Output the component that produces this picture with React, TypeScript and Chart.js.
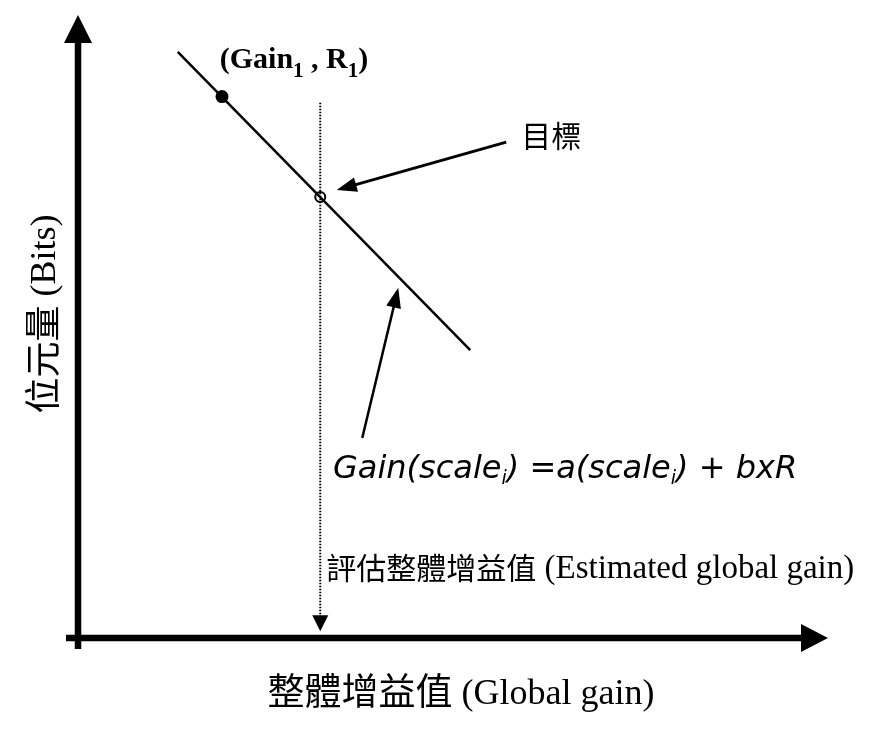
import React, { useEffect, useRef } from "react";
import { Chart, registerables } from "chart.js";

Chart.register(...registerables);

// ---- data (abstract units, 0..100 on both axes) ----
const lineX = [13.3, 52.3];
const lineY = [94.1, 46.2];
const startPointX = [19.2];
const startPointY = [86.9];
const targetPointX = [32.3];
const targetPointY = [70.8];
const estimateLineX = [32.3, 32.3];
const estimateLineY = [85.9, 3.5];
const estimateArrowTip = [32.3, 1.1];

// annotation anchors (data units)
const targetArrowTail = [57.1, 79.6];
const targetArrowTip = [34.5, 71.9];
const formulaArrowTail = [37.9, 32.1];
const formulaArrowTip = [42.7, 56.2];
const targetLabelAt = [59.1, 80.6];
const startLabelAt = [18.9, 91.5];
const formulaLabelAt = [34.0, 25.7];
const estimateLabelAt = [33.1, 9.6];

const xTitleCJK = "整體增益值";
const xTitleLatin = " (Global gain)";
const yTitleCJK = "位元量";
const yTitleLatin = " (Bits)";
const targetLabel = "目標";
const estimateCJK = "評估整體增益值";
const estimateLatin = " (Estimated global gain)";

const SERIF = "'Liberation Serif', 'Times New Roman', serif";
const CJK = "'Noto Sans CJK TC', 'Noto Sans CJK SC', sans-serif";

function arrow(ctx: CanvasRenderingContext2D, x1: number, y1: number, x2: number, y2: number, headLen: number, headW: number, lw: number) {
  const ang = Math.atan2(y2 - y1, x2 - x1);
  const bx = x2 - Math.cos(ang) * headLen;
  const by = y2 - Math.sin(ang) * headLen;
  ctx.save();
  ctx.strokeStyle = "#000";
  ctx.fillStyle = "#000";
  ctx.lineWidth = lw;
  ctx.setLineDash([]);
  ctx.beginPath();
  ctx.moveTo(x1, y1);
  ctx.lineTo(bx + Math.cos(ang) * 2, by + Math.sin(ang) * 2);
  ctx.stroke();
  const px = -Math.sin(ang) * headW;
  const py = Math.cos(ang) * headW;
  ctx.beginPath();
  ctx.moveTo(x2, y2);
  ctx.lineTo(bx + px, by + py);
  ctx.lineTo(bx - px, by - py);
  ctx.closePath();
  ctx.fill();
  ctx.restore();
}

type Piece = { t: string; font: string; dy?: number };
function drawPieces(ctx: CanvasRenderingContext2D, pieces: Piece[], x: number, y: number) {
  let cx = x;
  for (const p of pieces) {
    ctx.font = p.font;
    ctx.fillText(p.t, cx, y + (p.dy || 0));
    cx += ctx.measureText(p.t).width;
  }
  return cx - x;
}
function piecesWidth(ctx: CanvasRenderingContext2D, pieces: Piece[]) {
  let w = 0;
  for (const p of pieces) {
    ctx.font = p.font;
    w += ctx.measureText(p.t).width;
  }
  return w;
}

const decorPlugin = {
  id: "decor",
  afterDatasetsDraw(chart: any) {
    const ctx: CanvasRenderingContext2D = chart.ctx;
    const xs = chart.scales.x;
    const ys = chart.scales.y;
    const area = chart.chartArea;
    const X = (v: number) => xs.getPixelForValue(v);
    const Y = (v: number) => ys.getPixelForValue(v);

    ctx.save();
    ctx.fillStyle = "#000";
    ctx.strokeStyle = "#000";

    // axes
    ctx.lineWidth = 6.5;
    ctx.beginPath();
    ctx.moveTo(area.left, area.bottom + 11);
    ctx.lineTo(area.left, area.top + 25);
    ctx.stroke();
    ctx.beginPath();
    ctx.moveTo(area.left - 12, area.bottom);
    ctx.lineTo(area.right - 24, area.bottom);
    ctx.stroke();
    // y arrow head
    ctx.beginPath();
    ctx.moveTo(area.left, area.top);
    ctx.lineTo(area.left - 14, area.top + 28);
    ctx.lineTo(area.left + 14, area.top + 28);
    ctx.closePath();
    ctx.fill();
    // x arrow head
    ctx.beginPath();
    ctx.moveTo(area.right, area.bottom);
    ctx.lineTo(area.right - 27, area.bottom - 14);
    ctx.lineTo(area.right - 27, area.bottom + 14);
    ctx.closePath();
    ctx.fill();

    // estimate arrow head (down)
    const tipX = X(estimateArrowTip[0]);
    const tipY = Y(estimateArrowTip[1]);
    ctx.beginPath();
    ctx.moveTo(tipX, tipY);
    ctx.lineTo(tipX - 8, tipY - 16);
    ctx.lineTo(tipX + 8, tipY - 16);
    ctx.closePath();
    ctx.fill();

    // annotation arrows
    arrow(ctx, X(targetArrowTail[0]), Y(targetArrowTail[1]), X(targetArrowTip[0]), Y(targetArrowTip[1]), 20, 7.5, 3);
    arrow(ctx, X(formulaArrowTail[0]), Y(formulaArrowTail[1]), X(formulaArrowTip[0]), Y(formulaArrowTip[1]), 20, 7.5, 2.5);

    // texts
    ctx.textAlign = "left";
    ctx.textBaseline = "alphabetic";
    // (Gain1 , R1)
    const bold = `bold 30px ${SERIF}`;
    const boldSub = `bold 21px ${SERIF}`;
    drawPieces(ctx, [
      { t: "(Gain", font: bold },
      { t: "1", font: boldSub, dy: 9 },
      { t: " , ", font: bold },
      { t: "R", font: bold },
      { t: "1", font: boldSub, dy: 9 },
      { t: ")", font: bold },
    ], X(startLabelAt[0]), Y(startLabelAt[1]));

    // 目標
    ctx.textBaseline = "middle";
    ctx.font = `30px ${CJK}`;
    ctx.fillText(targetLabel, X(targetLabelAt[0]), Y(targetLabelAt[1]));

    // formula
    ctx.textBaseline = "alphabetic";
    const it = `italic 32px 'DejaVu Sans', sans-serif`;
    const itSub = `italic 19px 'DejaVu Sans', sans-serif`;
    drawPieces(ctx, [
      { t: "Gain(scale", font: it },
      { t: "i", font: itSub, dy: 6 },
      { t: ") =a(scale", font: it },
      { t: "i", font: itSub, dy: 6 },
      { t: ") + bxR", font: it },
    ], X(formulaLabelAt[0]), Y(formulaLabelAt[1]));

    // estimate label
    drawPieces(ctx, [
      { t: estimateCJK, font: `30px ${CJK}`, dy: 1 },
      { t: estimateLatin, font: `33px ${SERIF}` },
    ], X(estimateLabelAt[0]), Y(estimateLabelAt[1]));

    // x title
    const xPieces: Piece[] = [
      { t: xTitleCJK, font: `37px ${CJK}`, dy: 1 },
      { t: xTitleLatin, font: `36px ${SERIF}` },
    ];
    const xw = piecesWidth(ctx, xPieces);
    const xCenter = (area.left + area.right) / 2 + 8;
    drawPieces(ctx, xPieces, xCenter - xw / 2, area.bottom + 66);

    // y title (rotated)
    const yPieces: Piece[] = [
      { t: yTitleCJK, font: `36px ${CJK}`, dy: 1 },
      { t: yTitleLatin, font: `36px ${SERIF}` },
    ];
    const yw = piecesWidth(ctx, yPieces);
    ctx.save();
    ctx.translate(area.left - 35, 314);
    ctx.rotate(-Math.PI / 2);
    drawPieces(ctx, yPieces, -yw / 2, 12);
    ctx.restore();

    ctx.restore();
  },
};

export default function App() {
  const ref = useRef<HTMLCanvasElement | null>(null);
  useEffect(() => {
    if (!ref.current) return;
    const toPts = (xa: number[], ya: number[]) => xa.map((x, i) => ({ x, y: ya[i] }));
    const chart = new Chart(ref.current, {
      type: "scatter",
      data: {
        datasets: [
          {
            data: toPts(lineX, lineY),
            showLine: true,
            borderColor: "#000",
            borderWidth: 2.5,
            pointRadius: 0,
          },
          {
            data: toPts(estimateLineX, estimateLineY),
            showLine: true,
            borderColor: "#000",
            borderWidth: 2,
            borderDash: [1.5, 1.5],
            pointRadius: 0,
          },
          {
            data: toPts(startPointX, startPointY),
            pointRadius: 6.5,
            pointBackgroundColor: "#000",
            pointBorderColor: "#000",
            pointBorderWidth: 0,
          },
          {
            data: toPts(targetPointX, targetPointY),
            pointRadius: 5,
            pointBackgroundColor: "#fff",
            pointBorderColor: "#000",
            pointBorderWidth: 2,
          },
        ],
      } as any,
      options: {
        responsive: false,
        animation: false,
        layout: { padding: { left: 78, right: 45, top: 15, bottom: 93 } },
        scales: {
          x: { type: "linear", min: 0, max: 100, display: false },
          y: { type: "linear", min: 0, max: 100, display: false },
        },
        plugins: { legend: { display: false }, tooltip: { enabled: false } },
        events: [],
      } as any,
      plugins: [decorPlugin],
    });
    return () => chart.destroy();
  }, []);
  return (
    <div style={{ position: "fixed", left: 0, top: 0, width: 873, height: 731, background: "#fff" }}>
      <canvas ref={ref} width={873} height={731} style={{ width: 873, height: 731, display: "block" }} />
    </div>
  );
}
